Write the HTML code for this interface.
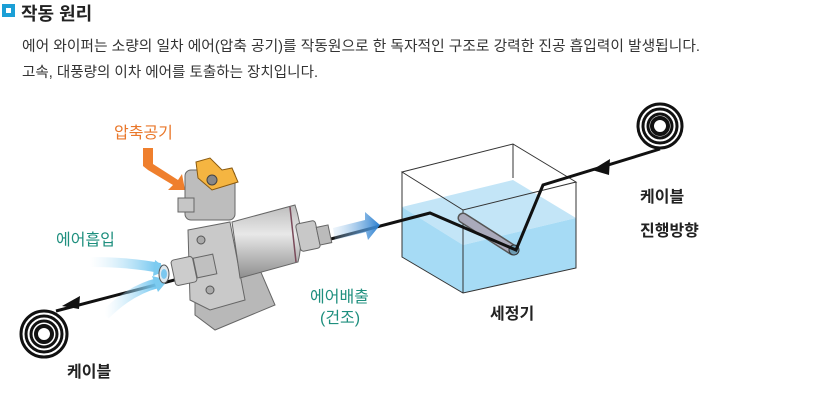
<!DOCTYPE html>
<html><head><meta charset="utf-8"><style>
body{margin:0;width:820px;height:401px;background:#fff;overflow:hidden;font-family:"Liberation Sans","Noto Sans CJK KR",sans-serif}
</style></head><body>
<svg width="820" height="401" viewBox="0 0 820 401" xmlns="http://www.w3.org/2000/svg" font-family="Liberation Sans, Noto Sans CJK KR, sans-serif">
<defs>
<linearGradient id="bl" x1="0" x2="1"><stop offset="0" stop-color="#bfe4f7" stop-opacity="0"/><stop offset="1" stop-color="#6cc4ef"/></linearGradient>
<linearGradient id="bo" x1="0" x2="1"><stop offset="0" stop-color="#a9cdec" stop-opacity="0.2"/><stop offset="1" stop-color="#2a7fd0"/></linearGradient>
<linearGradient id="cyl" x1="0" y1="0" x2="0" y2="1"><stop offset="0" stop-color="#bdbdbd"/><stop offset="0.4" stop-color="#e8e8e8"/><stop offset="1" stop-color="#8e8e8e"/></linearGradient>
</defs>
<!-- title -->
<rect x="2" y="4" width="13" height="13" fill="#1b9fd6"/><rect x="6" y="8" width="5" height="5" fill="#fff"/>
<text x="21" y="20" font-size="18" font-weight="bold" fill="#222">작동 원리</text>
<text x="22" y="51" font-size="14.5" fill="#333" textLength="678" lengthAdjust="spacingAndGlyphs">에어 와이퍼는 소량의 일차 에어(압축 공기)를 작동원으로 한 독자적인 구조로 강력한 진공 흡입력이 발생됩니다.</text>
<text x="22" y="77" font-size="14.5" fill="#333" textLength="296" lengthAdjust="spacingAndGlyphs">고속, 대풍량의 이차 에어를 토출하는 장치입니다.</text>

<!-- tank -->
<polygon points="402,207 513,180 576,218 463,245" fill="#c3e5f7"/>
<polygon points="402,207 463,245 463,293 402,257" fill="#a6dbf5"/>
<polygon points="463,245 576,218 576,268 463,293" fill="#a6dbf5"/>
<g fill="none" stroke="#333" stroke-width="1">
<polygon points="402,172 513,144 576,182 463,210"/>
<polyline points="402,172 402,257 463,293 576,268 576,182"/>
<line x1="463" y1="210" x2="463" y2="293"/><line x1="513" y1="144" x2="513" y2="178"/>
</g>
<!-- roller -->
<line x1="463" y1="218" x2="513" y2="250" stroke="#555" stroke-width="11" stroke-linecap="round"/>
<line x1="463" y1="218" x2="513" y2="250" stroke="#aab" stroke-width="8" stroke-linecap="round"/>
<circle cx="514" cy="250" r="5" fill="#6d9bb3" stroke="#333"/>

<!-- cable -->
<polyline points="660,149 543,185 516,250 430,213 56,311" fill="none" stroke="#111" stroke-width="3"/>
<polygon points="592,170 610,159 609,175" fill="#111"/>
<polygon points="62,306 80,296 79,309" fill="#111"/>
<!-- coils -->
<g fill="none" stroke="#111" stroke-width="3">
<circle cx="660" cy="126" r="22"/><circle cx="660" cy="126" r="17"/><circle cx="660" cy="126" r="12"/><circle cx="660" cy="126" r="8" stroke-width="4"/>
<circle cx="44" cy="334" r="23"/><circle cx="44" cy="334" r="18"/><circle cx="44" cy="334" r="13"/><circle cx="44" cy="334" r="8" stroke-width="4"/>
</g>

<!-- air arrows -->
<path d="M90,262 Q130,262 160,268" stroke="url(#bl)" stroke-width="10" fill="none"/>
<polygon points="155,260 168,270 153,276" fill="#7ccbf0"/>
<path d="M105,315 Q130,290 158,283" stroke="url(#bl)" stroke-width="10" fill="none"/>
<polygon points="152,276 168,280 158,292" fill="#7ccbf0"/>
<polygon points="333,228 365,220 365,212 380,225 368,240 366,232 335,240" fill="url(#bo)"/>
<!-- compressed air arrow -->
<polygon points="143,148 153,148 153,164 178,180 182,174 185,190 168,190 173,185 148,170 143,166" fill="#ef7f2d"/>

<!-- device -->
<polygon points="195,280 260,270 275,305 215,330 195,315" fill="#b8b8b8" stroke="#666"/>
<rect x="185" y="170" width="50" height="50" rx="6" fill="#bdbdbd" stroke="#666"/>
<polygon points="196,162 210,158 222,170 232,168 238,182 212,190 198,178" fill="#f5b541" stroke="#8a5a10"/>
<circle cx="212" cy="180" r="5" fill="#888" stroke="#444"/>
<rect x="178" y="198" width="16" height="14" fill="#c6c6c6" stroke="#666"/>
<path d="M188,230 L230,222 L245,300 L210,310 L190,300 Z" fill="#c9c9c9" stroke="#666"/>
<circle cx="201" cy="240" r="4" fill="#aaa" stroke="#555"/><circle cx="210" cy="290" r="4" fill="#aaa" stroke="#555"/>
<path d="M232,222 L295,205 Q305,235 298,262 L240,278 Z" fill="url(#cyl)" stroke="#666"/>
<line x1="290" y1="207" x2="296" y2="262" stroke="#7a4a5a" stroke-width="1.5"/>
<rect x="298" y="222" width="20" height="28" rx="3" fill="#c8c8c8" stroke="#666" transform="rotate(-12 308 236)"/>
<rect x="318" y="226" width="12" height="18" fill="#bbb" stroke="#666" transform="rotate(-12 324 235)"/>
<rect x="173" y="258" width="22" height="26" rx="3" fill="#ccc" stroke="#666" transform="rotate(-12 184 271)"/>
<rect x="195" y="256" width="20" height="20" fill="#c0c0c0" stroke="#666" transform="rotate(-12 205 266)"/>
<ellipse cx="164" cy="274" rx="5" ry="9" fill="#dfe8ee" stroke="#555"/>
<ellipse cx="164" cy="274" rx="3" ry="5" fill="#7cc8ef"/>

<!-- labels -->
<text x="114" y="138" font-size="16" fill="#e9772a">압축공기</text>
<text x="56" y="245" font-size="16" fill="#1e8f7e">에어흡입</text>
<text x="310" y="302" font-size="16" fill="#1e8f7e">에어배출</text>
<text x="320" y="323" font-size="16" fill="#1e8f7e">(건조)</text>
<text x="67" y="377" font-size="16" font-weight="bold" fill="#222">케이블</text>
<text x="490" y="319" font-size="16" font-weight="bold" fill="#222">세정기</text>
<text x="640" y="202" font-size="16" font-weight="bold" fill="#222">케이블</text>
<text x="640" y="236" font-size="16" font-weight="bold" fill="#222">진행방향</text>
</svg>
</body></html>
